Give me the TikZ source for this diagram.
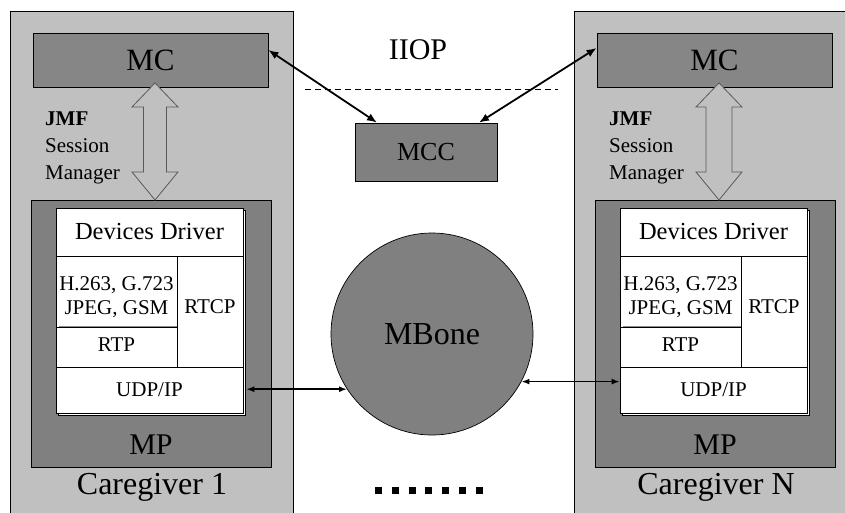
\documentclass[tikz,border=0pt]{standalone}
\usepackage{fontspec}
\setmainfont{Liberation Serif}
\usetikzlibrary{arrows.meta}
\definecolor{lightg}{HTML}{C0C0C0}
\definecolor{darkg}{HTML}{808080}
\definecolor{mcg}{HTML}{868686}
\newcommand\fsz[2]{\fontsize{#1}{#2}\selectfont}
\tikzset{
  cgbox/.style={draw=black, fill=lightg, line width=0.8pt, inner sep=0pt},
  mcbox/.style={draw=black, fill=mcg, line width=0.8pt, inner sep=0pt, font=\fsz{31}{36}},
  mpbox/.style={draw=black, fill=darkg, line width=0.8pt, inner sep=0pt},
  cell/.style={draw=black, fill=white, line width=0.7pt, inner sep=0pt, align=center, font=\fsz{21}{23}},
  celltext/.style={inner sep=0pt, align=center, font=\fsz{21}{24}},
  biglabel/.style={inner sep=0pt, font=\fsz{32}{36}},
  hollow/.style={draw=black!65, fill=lightg, line width=0.8pt},
  iiop/.style={<->, line width=1.8pt, >={Latex[length=10pt,width=8pt]}},
  udp/.style={<->, line width=1.5pt, >={Latex[length=8pt,width=6pt]}},
}
\newcommand\cgunit[4]{% #1 suffix, #2 xshift, #3 label, #4 shaft half width
\begin{scope}[xshift=#2]
  \node[cgbox, minimum width=283pt, minimum height=519pt] (cg#1) at (151.5,270.5) {};
  \node[mcbox, minimum width=235pt, minimum height=54pt] (mc#1) at (150.5,60) {MC};
  \node[mpbox, minimum width=240pt, minimum height=267pt] (mp#1) at (151,333.5) {};
  \node[biglabel, font=\fsz{30}{34}] (mpl#1) at (151,445) {MP};
  \node[biglabel] (cgl#1) at (152,487) {#3};
  \node[draw=black, fill=white, line width=0.7pt, minimum width=187pt, minimum height=205pt, inner sep=0pt] (stk#1) at (151.5,312.5) {};
  \node[cell, minimum width=187pt, minimum height=48pt, font=\fsz{24.5}{27}] (dd#1) at (149.5,232) {Devices Driver};
  \node[cell, minimum width=121pt, minimum height=71pt] (codec#1) at (116.5,291.5) {};
  \node[celltext] (codectxt#1) at (116.5,297.5) {H.263, G.723\\JPEG, GSM};
  \node[cell, minimum width=121pt, minimum height=40pt] (rtp#1) at (116.5,347) {};
  \node[celltext] (rtptxt#1) at (116.5,345) {RTP};
  \draw[black!45, line width=0.8pt] ([xshift=3pt]rtp#1.north west) -- ([xshift=-0.5pt]rtp#1.north east);
  \node[cell, minimum width=66pt, minimum height=111pt] (rtcp#1) at (210,311.5) {};
  \node[celltext] (rtcptxt#1) at (210,307) {RTCP};
  \node[cell, minimum width=187pt, minimum height=46pt] (udp#1) at (149.5,390) {UDP/IP};
  \path[hollow] (155,83) -- (178,107) -- (155+#4,107) -- (155+#4,172) -- (178,172)
     -- (155,200) -- (132,172) -- (155-#4,172) -- (155-#4,107) -- (132,107) -- cycle;
  \node[inner sep=0pt, anchor=north west, align=left, font=\fsz{21}{27}] (jmf#1) at (45,112)
     {\textbf{JMF}\\Session\\Manager};
\end{scope}}
\begin{document}
\begin{tikzpicture}[x=1pt, y=-1pt]
  \useasboundingbox (0,0) rectangle (845,512);
  \clip (0,0) rectangle (845,512);
  \fill[white] (0,0) rectangle (845,512);
  \cgunit{1}{0pt}{Caregiver 1}{11.5}
  \cgunit{2}{564pt}{Caregiver N}{13}
  % centre
  \node[inner sep=0pt, font=\fsz{30}{34}] (iiop) at (418,50) {IIOP};
  \coordinate (dashL) at (305,89);
  \coordinate (dashR) at (558,89);
  \draw[line width=0.7pt, dash pattern=on 6pt off 4pt] (dashL) -- (dashR);
  \node[draw=black, fill=darkg, line width=0.8pt, inner sep=0pt, minimum width=142pt, minimum height=58pt, font=\fsz{26}{30}] (mcc) at (426,152) {MCC};
  \node[circle, draw=black, fill=darkg, line width=0.7pt, inner sep=0pt, minimum size=202pt, font=\fsz{32}{36}] (mbone) at (432,334) {MBone};
  \draw[iiop] ([yshift=10pt]mc1.east) -- ([xshift=-49pt]mcc.north);
  \draw[iiop] ([yshift=12pt]mc2.west) -- ([xshift=53pt]mcc.north);
  \draw[udp] ([xshift=3pt]udp1.east |- mbone.213) -- (mbone.213);
  \draw[udp] (mbone.332) -- (mbone.332 -| udp2.west);
  \foreach \i in {0,...,6} \fill (375+\i*16.8,487) rectangle ++(7,7);
\end{tikzpicture}
\end{document}
